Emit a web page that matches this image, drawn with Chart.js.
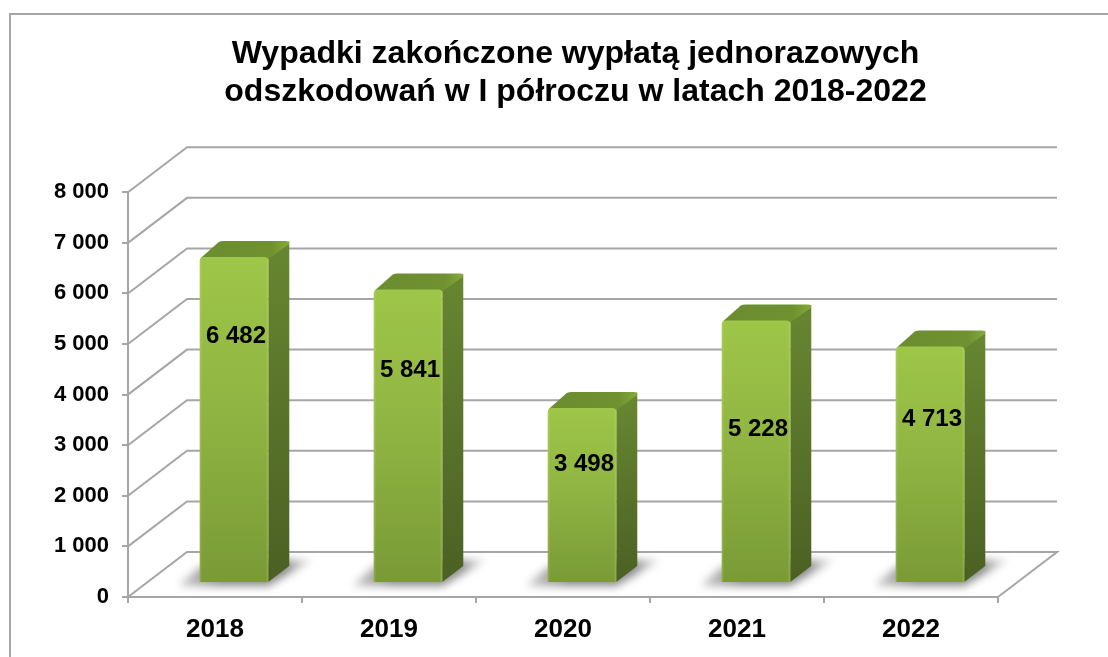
<!DOCTYPE html>
<html lang="pl">
<head>
  <meta charset="UTF-8" />
  <title>Wypadki</title>
  <script src="https://cdn.jsdelivr.net/npm/chart.js"></script>
  <style>
    body { margin: 0; background: #fff; overflow: hidden; }
    .frame {
      position: absolute;
      left: 9px;
      top: 13px;
      right: 0;
      bottom: 0;
      border-left: 2px solid #a6a6a6;
      border-top: 2px solid #a6a6a6;
    }
    canvas { position: absolute; left: 0; top: 0; }
  </style>
</head>
<body>
  <div class="frame"></div>
  <canvas id="chart" width="1108" height="657"></canvas>

  <script>
    const years = ['2018', '2019', '2020', '2021', '2022'];
    const accidents = [6482, 5841, 3498, 5228, 4713];
    const titleLines = ['Wypadki zakończone wypłatą jednorazowych', 'odszkodowań w I półroczu w latach 2018-2022'];
    // how far below the bar top each value label sits (placed by hand in the original)
    const labelDrop = [79, 81, 56, 109, 73];

    const FONT = '"Liberation Sans", Arial, sans-serif';
    const GRID = '#a6a6a6';
    const wall = { dx: 59, dy: -45 };     // depth of the back wall
    const barShift = { dx: 19, dy: -14 }; // bars stand in the middle of the floor
    const barDepth = { dx: 21, dy: -16 };

    const fmt = v => String(v).replace(/\B(?=(\d{3})+$)/g, ' ');

    function roundTopPath(ctx, l, t, r, b, rad) {
      ctx.beginPath();
      ctx.moveTo(l, b);
      ctx.lineTo(l, t + rad);
      ctx.quadraticCurveTo(l, t, l + rad, t);
      ctx.lineTo(r - rad, t);
      ctx.quadraticCurveTo(r, t, r, t + rad);
      ctx.lineTo(r, b);
      ctx.closePath();
    }

    function poly(ctx, pts) {
      ctx.beginPath();
      pts.forEach((p, i) => i ? ctx.lineTo(p[0], p[1]) : ctx.moveTo(p[0], p[1]));
      ctx.closePath();
    }

    const walls3d = {
      id: 'walls3d',
      afterLayout(chart) {
        // the title is centred a bit right of the plot in the original
        chart.titleBlock.left = 153;
      },
      beforeDatasetsDraw(chart) {
        const { ctx, scales: { x, y } } = chart;
        const left = x.left, right = x.right;
        ctx.save();
        ctx.strokeStyle = GRID;
        ctx.lineWidth = 2;
        y.ticks.forEach(t => {
          const py = y.getPixelForValue(t.value);
          ctx.beginPath();
          ctx.moveTo(left, py);
          ctx.lineTo(left + wall.dx, py + wall.dy);
          ctx.lineTo(right + wall.dx, py + wall.dy);
          if (t.value === 0) ctx.lineTo(right, py);
          ctx.stroke();
        });
        ctx.restore();
      },
      afterDatasetsDraw(chart) {
        const { ctx } = chart;
        const bars = chart.getDatasetMeta(0).data;

        bars.forEach(bar => {
          const l = bar.x - bar.width / 2 + barShift.dx;
          const r = l + bar.width;
          const b = bar.base + barShift.dy;
          ctx.save();
          ctx.filter = 'blur(4px)';
          const s = ctx.createLinearGradient(l - 20, 0, r + 44, 0);
          s.addColorStop(0, 'rgba(130,130,130,0.45)');
          s.addColorStop(0.3, 'rgba(90,90,90,0.7)');
          s.addColorStop(0.8, 'rgba(90,90,90,0.7)');
          s.addColorStop(1, 'rgba(160,160,160,0.3)');
          ctx.fillStyle = s;
          poly(ctx, [[l - 21, b + 4], [r, b + 4], [r + 44, b - 22], [r, b - 22], [l, b - 15]]);
          ctx.fill();
          ctx.restore();
        });

        bars.forEach((bar, i) => {
          const l = bar.x - bar.width / 2 + barShift.dx;
          const r = l + bar.width;
          const t = bar.y + barShift.dy + 2;
          const b = bar.base + barShift.dy;
          const dx = barDepth.dx, dy = barDepth.dy;

          // side
          let g = ctx.createLinearGradient(0, t, 0, b);
          g.addColorStop(0, '#668530');
          g.addColorStop(1, '#4b6023');
          ctx.fillStyle = g;
          poly(ctx, [[r, t], [r + dx, t + dy], [r + dx, b + dy], [r, b]]);
          ctx.fill();

          // top
          g = ctx.createLinearGradient(l, 0, r + dx, 0);
          g.addColorStop(0, '#6c8d30');
          g.addColorStop(0.8, '#6f9130');
          g.addColorStop(1, '#83aa3a');
          ctx.fillStyle = g;
          ctx.beginPath();
          ctx.moveTo(l + 1, t + 1);
          ctx.lineTo(l + dx - 2, t + dy + 1);
          ctx.quadraticCurveTo(l + dx, t + dy, l + dx + 3, t + dy);
          ctx.lineTo(r + dx - 3, t + dy);
          ctx.quadraticCurveTo(r + dx, t + dy, r + dx, t + dy + 3);
          ctx.lineTo(r, t + 2);
          ctx.closePath();
          ctx.fill();

          // front
          g = ctx.createLinearGradient(0, t, 0, b);
          g.addColorStop(0, '#9ec648');
          g.addColorStop(0.5, '#8fb342');
          g.addColorStop(1, '#799a36');
          ctx.fillStyle = g;
          roundTopPath(ctx, l, t, r, b, 4);
          ctx.fill();

          // lighter rim on the left and right of the front face
          g = ctx.createLinearGradient(l, 0, r, 0);
          g.addColorStop(0, 'rgba(210,235,130,0.25)');
          g.addColorStop(0.04, 'rgba(210,235,130,0)');
          g.addColorStop(0.96, 'rgba(210,235,130,0)');
          g.addColorStop(1, 'rgba(210,235,130,0.25)');
          ctx.fillStyle = g;
          roundTopPath(ctx, l, t, r, b, 4);
          ctx.fill();

          // value label
          ctx.fillStyle = '#000';
          ctx.font = 'bold 24px ' + FONT;
          ctx.textAlign = 'center';
          ctx.textBaseline = 'middle';
          ctx.fillText(fmt(accidents[i]), (l + r) / 2 + 2, t + labelDrop[i]);
        });
      }
    };

    new Chart(document.getElementById('chart'), {
      type: 'bar',
      data: {
        labels: years,
        datasets: [{
          data: accidents,
          backgroundColor: 'transparent',
          barPercentage: 0.394,
          categoryPercentage: 1
        }]
      },
      plugins: [walls3d],
      options: {
        responsive: false,
        animation: false,
        layout: { padding: { top: 0, left: 0, right: 110, bottom: 0 } },
        plugins: {
          legend: { display: false },
          tooltip: { enabled: false },
          title: {
            display: true,
            text: titleLines,
            color: '#000',
            font: { family: FONT, size: 32, weight: 'bold', lineHeight: 1.16 },
            padding: { top: 36, bottom: 82 }
          }
        },
        scales: {
          x: {
            afterFit: s => { s.height = 60; },
            border: { color: GRID, width: 2 },
            grid: { drawOnChartArea: false, color: GRID, lineWidth: 2, tickLength: 6 },
            ticks: { color: '#000', padding: 11, font: { family: FONT, size: 26, weight: 'bold' } }
          },
          y: {
            min: 0,
            max: 8000,
            afterFit: s => { s.width = 128; },
            border: { color: GRID, width: 2 },
            grid: { drawOnChartArea: false, color: GRID, lineWidth: 2, tickLength: 6 },
            ticks: {
              stepSize: 1000,
              color: '#000',
              padding: 13,
              font: { family: FONT, size: 22, weight: 'bold' },
              callback: v => fmt(v)
            }
          }
        }
      }
    });
  </script>
</body>
</html>
